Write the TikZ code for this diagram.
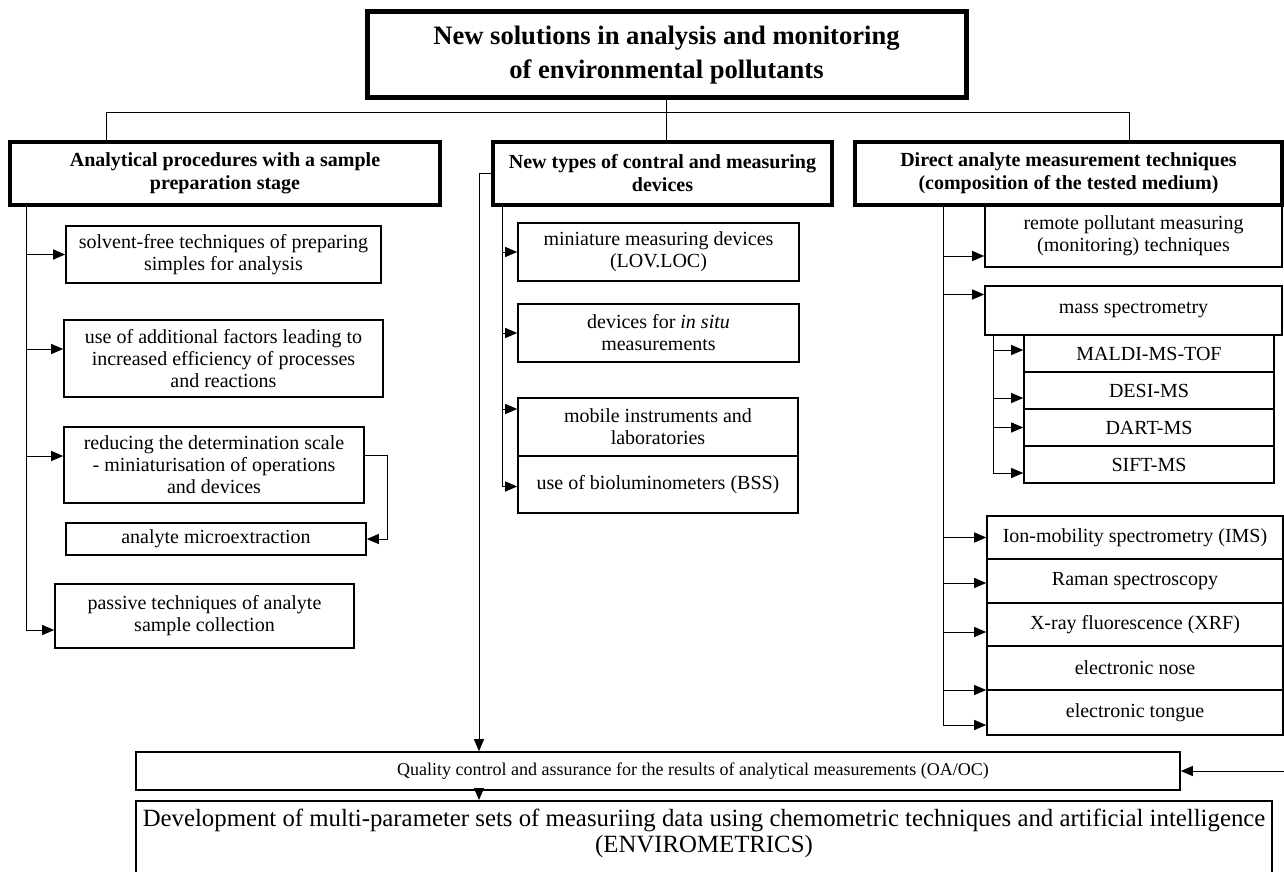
\documentclass[tikz,border=0pt]{standalone}
\usepackage{fontspec}
\setmainfont{Liberation Serif}
\usetikzlibrary{arrows.meta}

\begin{document}
\begin{tikzpicture}[x=0.5pt, y=-0.5pt,
    cell/.style 2 args={minimum width=#1*0.5pt, minimum height=#2*0.5pt},
    box/.style={draw, line width=0.8pt, inner sep=0pt, align=center,
        font=\fontsize{10}{11}\selectfont},
    head/.style={draw, line width=2.2pt, inner sep=0pt, align=center,
        font=\bfseries\fontsize{10}{11.5}\selectfont},
    arr/.style={-{Triangle[length=6pt,width=5pt]}, line width=0.5pt},
    link/.style={line width=0.5pt}]

    \useasboundingbox (0,0) rectangle (1284,872);
    \clip (0,0) rectangle (1284,872);

% trunk positions
    \coordinate (hl) at (106,113);
    \coordinate (hr) at (1129,113);
    \coordinate (lt) at (26,0);
    \coordinate (ox) at (479,0);
    \coordinate (mt) at (502,0);
    \coordinate (rt) at (943,0);
    \coordinate (st) at (993,0);
    \coordinate (rim) at (1300,0);

% title and the three headers
    \node[head, cell={599}{86}, line width=2.5pt,
        font=\bfseries\fontsize{13.3}{17}\selectfont] (title) at (666.5,55)
        {New solutions in analysis and monitoring\\ of environmental pollutants};
    \node[head, cell={430}{63}] (left) at (225,173.5)
        {Analytical procedures with a sample\\ preparation stage};
    \node[head, cell={339}{63}] (mid) at (662.5,173.5)
        {New types of contral and measuring\\ devices};
    \node[head, cell={427}{63}] (right) at (1068.5,173.5)
        {Direct analyte measurement techniques\\ (composition of the tested medium)};

    \draw[link] (left.north -| hl) -- (hl) -- (hr) -- (right.north -| hr);
    \draw[link] (title.south) -- (mid.north -| title.south);
    \draw[link] (right.east) -- ++(20,0);

% left column
    \node[box, cell={315}{57}] (solv) at (223.5,254.5)
        {solvent-free techniques of preparing\\ simples for analysis};
    \node[box, cell={319}{77}] (addf) at (223.5,358.5)
        {use of additional factors leading to\\ increased efficiency of processes\\ and reactions};
    \node[box, cell={300}{76}] (redu) at (214,465)
        {reducing the determination scale\\ - miniaturisation of operations\\ and devices};
    \node[box, cell={300}{32}] (micro) at (216,539) {analyte microextraction};
    \node[box, cell={299}{64}] (pass) at (204.5,616)
        {passive techniques of analyte\\ sample collection};

    \draw[arr] (left.south -| lt) |- (solv.west);
    \draw[arr] (left.south -| lt) |- ([yshift=4.75pt]addf.west);
    \draw[arr] (left.south -| lt) |- ([yshift=4.5pt]redu.west);
    \draw[arr] (left.south -| lt) |- ([yshift=-7pt]pass.west);
    \draw[arr] ([yshift=5pt]redu.east) -- ++(23,0) |- (micro.east);

% middle column
    \node[box, cell={281}{58}] (mini) at (658.5,252)
        {miniature measuring devices\\ (LOV.LOC)};
    \node[box, cell={281}{58}] (insitu) at (658.5,333)
        {devices for \textit{in situ}\\ measurements};
    \node[box, cell={280}{58}] (mob) at (658,427)
        {mobile instruments and\\ laboratories};
    \node[box, cell={280}{57}] (bio) at (658,484.5)
        {use of bioluminometers (BSS)};

    \draw[arr] (mid.south -| mt) |- (mini.west);
    \draw[arr] (mid.south -| mt) |- (insitu.west);
    \draw[arr] (mid.south -| mt) |- ([yshift=9pt]mob.west);
    \draw[arr] (mid.south -| mt) |- ([yshift=-1pt]bio.west);

% right column
    \node[box, cell={297}{62}] (remote) at (1133.5,236)
        {remote pollutant measuring\\ (monitoring) techniques};
    \node[box, cell={297}{49}] (mass) at (1133.5,310.5) {mass spectrometry};
    \node[box, cell={250}{37}] (maldi) at (1149,353.5) {MALDI-MS-TOF};
    \node[box, cell={250}{37}] (desi) at (1149,390.5) {DESI-MS};
    \node[box, cell={250}{37}] (dart) at (1149,427.5) {DART-MS};
    \node[box, cell={250}{37}] (sift) at (1149,464.5) {SIFT-MS};
    \node[box, cell={296}{43}] (ims) at (1135,537.5) {Ion-mobility spectrometry (IMS)};
    \node[box, cell={296}{44}] (raman) at (1135,581) {Raman spectroscopy};
    \node[box, cell={296}{43}] (xrf) at (1135,624.5) {X-ray fluorescence (XRF)};
    \node[box, cell={296}{44}] (nose) at (1135,668) {electronic nose};
    \node[box, cell={296}{45}] (tongue) at (1135,712.5) {electronic tongue};

    \draw[arr] (right.south -| rt) |- ([yshift=-10pt]remote.west);
    \draw[arr] (right.south -| rt) |- ([yshift=8pt]mass.west);
    \draw[arr] (right.south -| rt) |- (ims.west);
    \draw[arr] (right.south -| rt) |- ([yshift=-1pt]raman.west);
    \draw[arr] (right.south -| rt) |- ([yshift=-3.75pt]xrf.west);
    \draw[arr] (right.south -| rt) |- ([yshift=-11pt]nose.west);
    \draw[arr] (right.south -| rt) |- ([yshift=-6.25pt]tongue.west);

    \draw[arr] (mass.south -| st) |- ([yshift=1.75pt]maldi.west);
    \draw[arr] (mass.south -| st) |- ([yshift=-3.75pt]desi.west);
    \draw[arr] (mass.south -| st) |- (dart.west);
    \draw[arr] (mass.south -| st) |- ([yshift=-4.25pt]sift.west);

% bottom
    \node[box, cell={1044}{38}, font=\fontsize{9}{10}\selectfont] (qa) at (658,771)
        {\hspace*{35pt}Quality control and assurance for the results of analytical measurements (OA/OC)};
    \node[box, anchor=north, inner ysep=4pt, minimum width=568pt, text depth=60pt,
        font=\fontsize{12.4}{13}\selectfont] (dev) at (704,800)
        {Development of multi-parameter sets of measuriing data using chemometric techniques and artificial intelligence\\ (ENVIROMETRICS)};

    \draw[arr] (mid.west) -| (qa.north -| ox);
    \draw[arr] (qa.south -| ox) -- (dev.north -| ox);
    \draw[arr] (qa.east -| rim) -- (qa.east);

\end{tikzpicture}
\end{document}
